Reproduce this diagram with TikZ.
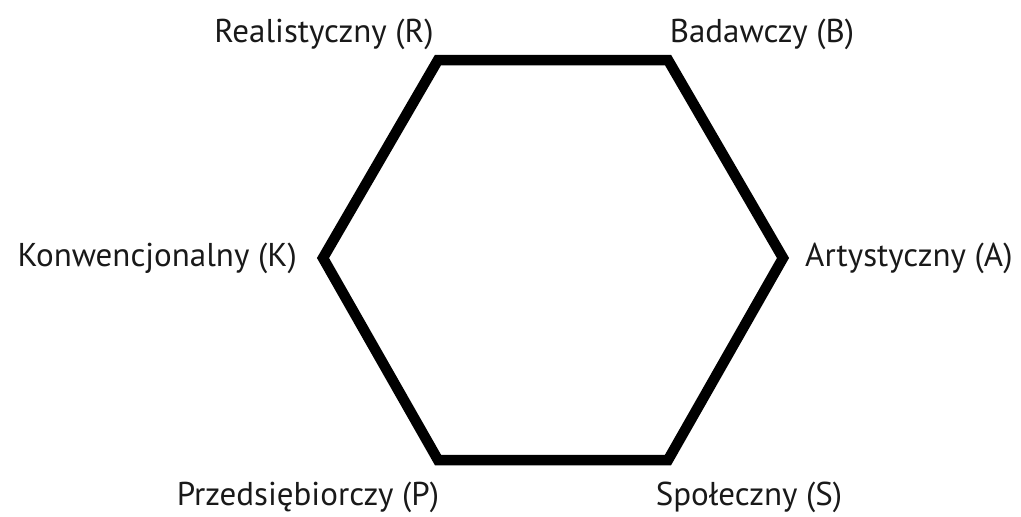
\documentclass[tikz,border=0pt]{standalone}
\usepackage{fontspec}
\setmainfont{PT Sans}
\begin{document}
\begin{tikzpicture}[x=1pt,y=-1pt,
  lbl/.style={inner sep=0pt,font=\fontsize{33}{38}\selectfont,text=black!90},
  edge/.style={line width=10.5pt,line join=miter,miter limit=10}]
\useasboundingbox (0,0) rectangle (1021,517);
% hexagon corners
\coordinate (r) at (438,60);
\coordinate (b) at (668,60);
\coordinate (a) at (783,258);
\coordinate (s) at (668,460);
\coordinate (p) at (438,460);
\coordinate (k) at (323,258);
\draw[edge] (r) -- (b) -- (a) -- (s) -- (p) -- (k) -- cycle;
% type labels
\node[lbl,anchor=base] (lr) at (324,42) {Realistyczny (R)};
\node[lbl,anchor=base] (lb) at (762,42) {Badawczy (B)};
\node[lbl,anchor=base east] (lk) at (297,266) {Konwencjonalny (K)};
\node[lbl,anchor=base west] (la) at (805,266) {Artystyczny (A)};
\node[lbl,anchor=base] (lp) at (308,505) {Przedsiębiorczy (P)};
\node[lbl,anchor=base] (ls) at (749,505) {Społeczny (S)};
\end{tikzpicture}
\end{document}
